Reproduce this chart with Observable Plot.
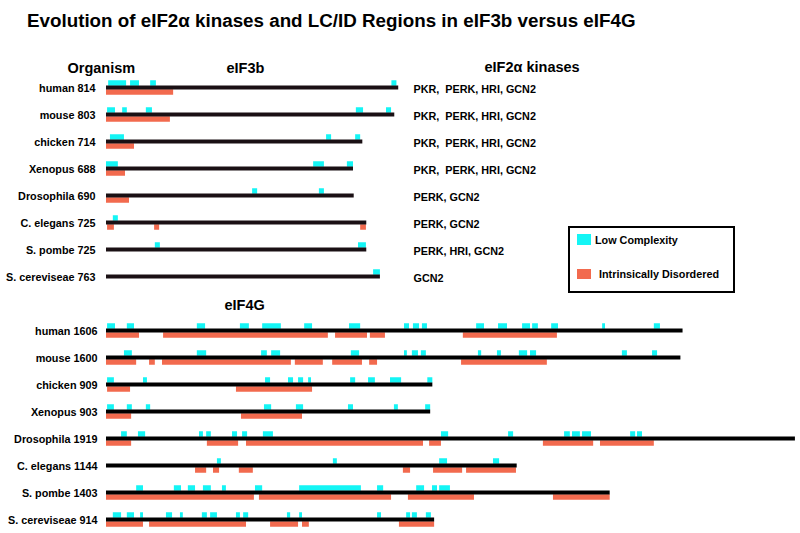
<!DOCTYPE html>
<html>
<head>
<meta charset="utf-8">
<script src="https://cdn.jsdelivr.net/npm/d3@7"></script>
<script src="https://cdn.jsdelivr.net/npm/@observablehq/plot@0.6"></script>
<style>
  body { margin: 0; background: #fff; }
  #wrap { position: relative; width: 800px; height: 533px; font-family: "Liberation Sans", Arial, Helvetica, sans-serif; }
  #title { position: absolute; left: 27px; top: 10px; font-size: 18.8px; font-weight: bold; white-space: nowrap; color: #000; }
  #chart { position: absolute; left: 0; top: 0; }
  #legend { position: absolute; left: 568px; top: 226px; width: 163px; height: 63px; border: 2px solid #000; background: #fff; font-size: 10.8px; font-weight: bold; }
  .sw { position: absolute; width: 14px; height: 11px; }
  .lt { position: absolute; white-space: nowrap; line-height: 12px; }
</style>
</head>
<body>
<div id="wrap">
  <div id="chart"></div>
  <div id="title">Evolution of eIF2α kinases and LC/ID Regions in eIF3b versus eIF4G</div>
  <div id="legend"></div>
</div>
<script>
// ---------- data ----------
const organisms = ["human", "mouse", "chicken", "Xenopus", "Drosophila", "C. elegans", "S. pombe", "S. cereviseae"];
const eif3bLength = [814, 803, 714, 688, 690, 725, 725, 763];
const eif4gLength = [1606, 1600, 909, 903, 1919, 1144, 1403, 914];
const kinases = [
  "PKR,\u00a0 PERK, HRI, GCN2",
  "PKR,\u00a0 PERK, HRI, GCN2",
  "PKR,\u00a0 PERK, HRI, GCN2",
  "PKR,\u00a0 PERK, HRI, GCN2",
  "PERK, GCN2",
  "PERK, GCN2",
  "PERK, HRI, GCN2",
  "GCN2"
];
const legendLabels = ["Low Complexity", "Intrinsically Disordered"];

// low complexity (LC) and intrinsically disordered (ID) regions, residue ranges
const eif3bLC = [
  [[6, 56], [67, 92], [123, 139], [795, 809]],
  [[3, 25], [45, 58], [111, 128], [696, 716], [780, 794]],
  [[11, 50], [613, 627], [694, 708]],
  [[0, 33], [577, 607], [671, 688]],
  [[407, 421], [593, 607]],
  [[19, 33]],
  [[136, 150], [702, 724]],
  [[744, 763]]
];
const eif3bID = [
  [[0, 187]],
  [[0, 178]],
  [[0, 78]],
  [[0, 53]],
  [[0, 64]],
  [[3, 22], [134, 148], [708, 724]],
  [],
  []
];
const eif4gLC = [
  [[3, 25], [58, 78], [253, 276], [373, 398], [435, 487], [552, 574], [677, 708], [830, 844], [855, 872], [880, 894], [1031, 1053], [1092, 1117], [1159, 1181], [1187, 1203], [1240, 1259], [1382, 1390], [1526, 1543]],
  [[50, 72], [253, 279], [432, 448], [460, 485], [682, 705], [830, 838], [852, 869], [877, 891], [1036, 1045], [1089, 1100], [1150, 1173], [1181, 1198], [1437, 1451], [1521, 1535]],
  [[3, 22], [103, 114], [443, 457], [507, 521], [535, 549], [563, 571], [680, 694], [730, 749], [791, 822], [895, 909]],
  [[3, 22], [58, 72], [111, 123], [440, 460], [529, 549], [674, 688], [802, 813], [889, 903]],
  [[42, 58], [89, 109], [259, 270], [279, 292], [351, 365], [379, 393], [437, 465], [933, 953], [1120, 1134], [1276, 1292], [1298, 1320], [1326, 1351], [1460, 1474], [1479, 1493]],
  [[309, 320], [632, 643], [928, 950], [1078, 1095]],
  [[84, 103], [189, 209], [228, 248], [270, 292], [323, 334], [415, 435], [538, 710], [755, 772], [864, 886], [908, 922], [928, 958]],
  [[19, 42], [58, 78], [95, 103], [167, 184], [206, 214], [267, 281], [290, 309], [362, 373], [382, 396], [504, 513], [538, 546], [755, 766], [836, 847], [852, 866], [891, 905]]
];
const eif4gID = [
  [[0, 92], [159, 618], [638, 727], [735, 777], [994, 1256]],
  [[0, 84], [120, 136], [156, 515], [526, 604], [630, 713], [733, 755], [989, 1228]],
  [[3, 67], [362, 574]],
  [[0, 70], [376, 546]],
  [[0, 70], [281, 368], [390, 883], [900, 933], [1217, 1357], [1376, 1526]],
  [[248, 279], [298, 315], [370, 409], [827, 847], [911, 992], [1003, 1142]],
  [[0, 412], [426, 794], [841, 1025], [1245, 1403]],
  [[0, 103], [120, 390], [457, 535], [546, 565], [816, 914]]
];

// ---------- derived tables ----------
const LC_COLOR = "#14f5f5";
const ID_COLOR = "#f26a4e";
const rows3b = organisms.map((o, i) => ({key: "eIF3b|" + o, label: `${o} ${eif3bLength[i]}`, len: eif3bLength[i], kin: kinases[i]}));
const rows4g = organisms.map((o, i) => ({key: "eIF4G|" + o, label: `${o} ${eif4gLength[i]}`, len: eif4gLength[i]}));
const segs = (arr, prefix) => arr.flatMap((list, i) => list.map(([s, e]) => ({key: prefix + organisms[i], start: s, end: e})));
const lc = [...segs(eif3bLC, "eIF3b|"), ...segs(eif4gLC, "eIF4G|")];
const id = [...segs(eif3bID, "eIF3b|"), ...segs(eif4gID, "eIF4G|")];
const yDomain = [...rows3b.map(d => d.key), "eIF4G", ...rows4g.map(d => d.key)];

const PX = 0.359; // pixels per residue
const bold = {fontWeight: "bold", fill: "#000"};

const chart = Plot.plot({
  width: 800,
  height: 533,
  margin: 0,
  style: {fontFamily: "'Liberation Sans', Arial, Helvetica, sans-serif", background: "transparent"},
  x: {domain: [0, 1919], range: [106, 106 + 1919 * PX], axis: null},
  y: {type: "point", domain: yDomain, range: [87, 519], padding: 0, axis: null},
  marks: [
    Plot.ruleY(lc, {y: "key", x1: "start", x2: "end", stroke: LC_COLOR, strokeWidth: 5.5, dy: -4.5}),
    Plot.ruleY(id, {y: "key", x1: "start", x2: "end", stroke: ID_COLOR, strokeWidth: 5.5, dy: 4.5}),
    Plot.ruleY(rows3b, {y: "key", x1: 0, x2: "len", stroke: "#1a1014", strokeWidth: 4}),
    Plot.ruleY(rows4g, {y: "key", x1: 0, x2: "len", stroke: "#000", strokeWidth: 4}),
    Plot.text(rows3b, {y: "key", x: 0, dx: -11, dy: 1, text: "label", textAnchor: "end", fontSize: 10.8, ...bold}),
    Plot.text(rows4g, {y: "key", x: 0, dx: -9, dy: 1, text: "label", textAnchor: "end", fontSize: 10.8, ...bold}),
    Plot.text(rows3b, {y: "key", frameAnchor: "left", dx: 413, dy: 2, text: "kin", textAnchor: "start", fontSize: 10.8, ...bold}),
    Plot.text(["Organism"], {frameAnchor: "top-left", dx: 67, dy: 62, text: d => d, fontSize: 14.5, ...bold}),
    Plot.text(["eIF3b"], {frameAnchor: "top-left", dx: 226, dy: 62, text: d => d, fontSize: 14.5, ...bold}),
    Plot.text(["eIF2α kinases"], {frameAnchor: "top-left", dx: 484, dy: 61, text: d => d, fontSize: 14.5, ...bold}),
    Plot.text(["eIF4G"], {y: d => d, frameAnchor: "left", dx: 224, dy: 2, text: d => d, fontSize: 14.5, ...bold})
  ]
});
document.getElementById("chart").appendChild(chart);

// ---------- legend ----------
const legend = d3.select("#legend");
const legendItems = [
  {label: legendLabels[0], color: LC_COLOR, sy: 6, sh: 11, tx: 25, ty: 6},
  {label: legendLabels[1], color: ID_COLOR, sy: 41, sh: 10, tx: 29, ty: 40}
];
legendItems.forEach(d => {
  legend.append("div").attr("class", "sw").style("left", "7px").style("top", d.sy + "px").style("height", d.sh + "px").style("background", d.color);
  legend.append("div").attr("class", "lt").style("left", d.tx + "px").style("top", d.ty + "px").text(d.label);
});
</script>
</body>
</html>
